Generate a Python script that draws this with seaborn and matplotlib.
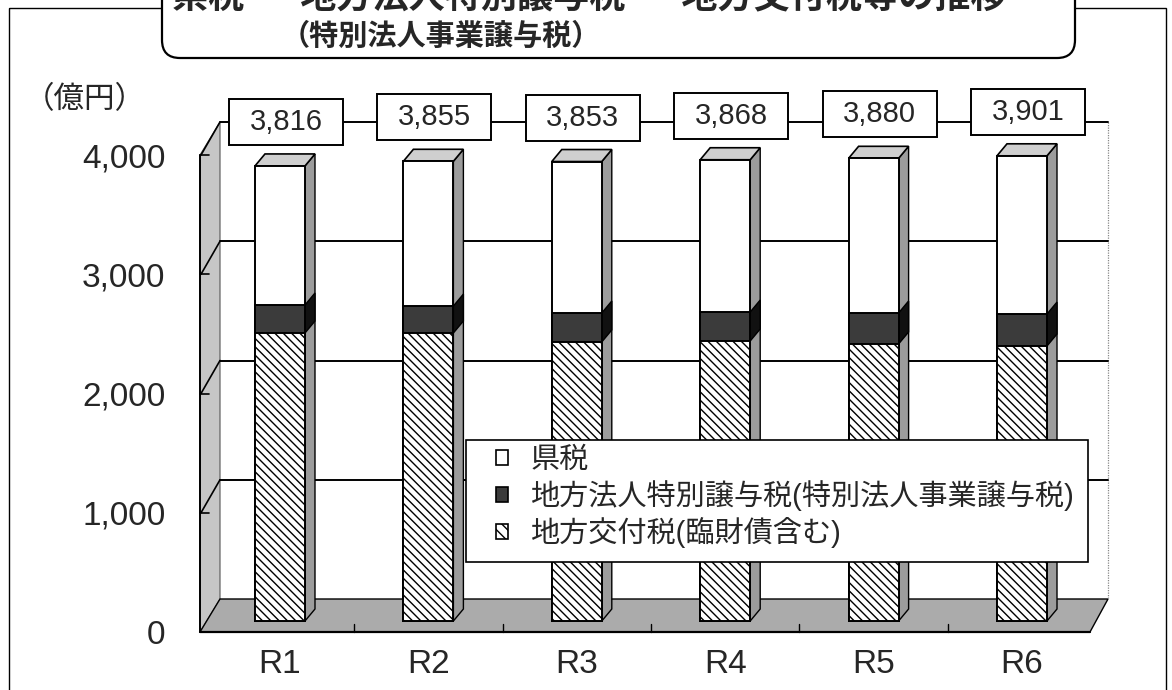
import numpy as np
import pandas as pd
import matplotlib
matplotlib.use("Agg")
import matplotlib.pyplot as plt
import seaborn as sns
from matplotlib.patches import Polygon, Rectangle, FancyBboxPatch, Patch
from matplotlib.transforms import IdentityTransform

# ---------------- data (億円) ----------------
years = ["R1", "R2", "R3", "R4", "R5", "R6"]
totals = [3816, 3855, 3853, 3868, 3880, 3901]
kenzei = [1166, 1214, 1270, 1277, 1297, 1327]          # 県税
tokubetsu = [235, 226, 243, 243, 260, 268]             # 地方法人特別譲与税(特別法人事業譲与税)
kouhu = [2415, 2415, 2340, 2348, 2323, 2306]           # 地方交付税(臨財債含む)
ytick_values = [0, 1000, 2000, 3000, 4000]
legend_labels = ["県税", "地方法人特別譲与税(特別法人事業譲与税)", "地方交付税(臨財債含む)"]
title_line1 = "県税 ・ 地方法人特別譲与税 ・ 地方交付税等の推移"
title_line2 = "（特別法人事業譲与税）"
unit_label = "（億円）"

sns.set_theme(style="white")
plt.rcParams["font.family"] = ["Liberation Sans", "Noto Sans CJK JP", "DejaVu Sans"]
plt.rcParams["hatch.linewidth"] = 1.0

W, H = 1172, 690
fig = plt.figure(figsize=(W / 100, H / 100), dpi=100)
fig.patch.set_facecolor("white")

# geometry (pixels, y measured from top)
FRONT0, BACK0, BAR0 = 632, 599, 621
S = 0.11925              # pixels per 億円
AX_L, AX_R, AX_T = 200, 1110, 118
XMIN, XMAX = -0.539, 5.593
DX, DY = 10, 12          # bar depth offset
BAR_W = 0.337


def xpix(i):
    return AX_L + (i - XMIN) * (AX_R - AX_L) / (XMAX - XMIN)


# ---------- background axes in pixel coordinates ----------
bg = fig.add_axes([0, 0, 1, 1], zorder=0)
bg.set_xlim(0, W)
bg.set_ylim(H, 0)
bg.axis("off")

# outer frame
bg.add_patch(Rectangle((9, 8), 1157, 700, fill=False, ec="black", lw=1.0, zorder=1))

top4000 = max(ytick_values)
# left wall
bg.add_patch(Polygon([(AX_L, FRONT0), (AX_L, FRONT0 - top4000 * S),
                      (AX_L + 20, BACK0 - top4000 * S), (AX_L + 20, BACK0)],
                     closed=True, fc="#c6c6c6", ec="#555555", lw=0.8, zorder=2))
# floor
bg.add_patch(Polygon([(AX_L, FRONT0), (1090, FRONT0), (1108, BACK0), (AX_L + 20, BACK0)],
                     closed=True, fc="#ababab", ec="black", lw=1.0, zorder=2))
bg.plot([AX_L, 1090], [FRONT0, FRONT0], color="black", lw=1.6, zorder=3)
# right edge of back wall
bg.plot([1108, 1108], [BACK0 - top4000 * S, BACK0], color="#888888", lw=0.9,
        ls=(0, (1, 1)), zorder=2)
# gridlines on back wall + left wall diagonals + front ticks
for v in ytick_values[1:]:
    yb = BACK0 - v * S
    yf = FRONT0 - v * S
    bg.plot([AX_L + 20, 1108], [yb, yb], color="black", lw=1.4, zorder=2)
    bg.plot([AX_L + 1, AX_L + 20], [yf, yb], color="black", lw=1.2, zorder=3)
    bg.plot([AX_L, AX_L + 9], [yf, yf], color="black", lw=1.2, zorder=3)
bg.plot([AX_L, AX_L], [FRONT0 - top4000 * S, FRONT0], color="black", lw=1.4, zorder=3)
# category separators on floor front edge
for i in range(len(years) - 1):
    xb = xpix(i + 0.5)
    bg.plot([xb, xb], [FRONT0, FRONT0 - 8], color="black", lw=1.0, zorder=3)

# title box
bg.add_patch(FancyBboxPatch((162, -60), 913, 118,
                            boxstyle="round,pad=0,rounding_size=18",
                            fc="white", ec="black", lw=1.6, zorder=4))
bg.text(172, -1, title_line1, fontsize=26, fontweight="bold", ha="left", va="center", zorder=5)
bg.text(281, 37, title_line2, fontsize=21, fontweight="bold", ha="left", va="center", zorder=5)
bg.text(85, 100, unit_label, fontsize=22, ha="center", va="center", zorder=5)

# ---------- main axes ----------
ax = fig.add_axes([AX_L / W, (H - FRONT0) / H, (AX_R - AX_L) / W, (FRONT0 - AX_T) / H], zorder=1)
ax.patch.set_alpha(0)

df = pd.DataFrame({"year": years, "kouhu": kouhu, "tokubetsu": tokubetsu, "kenzei": kenzei})
df["c2"] = df["kouhu"] + df["tokubetsu"]
df["c3"] = df["c2"] + df["kenzei"]

sns.barplot(data=df, x="year", y="c3", color="white", edgecolor="black", linewidth=1.4,
            width=BAR_W, saturation=1, errorbar=None, ax=ax, zorder=3)
sns.barplot(data=df, x="year", y="c2", color="#3b3b3b", edgecolor="black", linewidth=1.4,
            width=BAR_W, saturation=1, errorbar=None, ax=ax, zorder=3)
sns.barplot(data=df, x="year", y="kouhu", color="white", edgecolor="black", linewidth=1.4,
            hatch="\\\\\\\\", width=BAR_W, saturation=1, errorbar=None, ax=ax, zorder=3)

ax.set_xlim(XMIN, XMAX)
ax.set_ylim((BAR0 - FRONT0) / S, (BAR0 - AX_T) / S)
for sp in ax.spines.values():
    sp.set_visible(False)
ax.set_xlabel("")
ax.set_ylabel("")
off = (FRONT0 - BAR0) / S
ax.set_yticks([v - off for v in ytick_values])
ax.set_yticklabels([f"{v:,}" for v in ytick_values], fontsize=24)
ax.tick_params(axis="y", length=0, pad=25)
ax.tick_params(axis="x", length=0, pad=12, labelsize=24)
ax.grid(False)

# 3D side and top faces derived from the drawn bars
n = len(years)
tot_bars = ax.patches[:n]
mid_bars = ax.patches[n:2 * n]
low_bars = ax.patches[2 * n:3 * n]
idt = IdentityTransform()


def disp(x, y):
    return ax.transData.transform((x, y))


for pt, pm, pk in zip(tot_bars, mid_bars, low_bars):
    x0 = pt.get_x()
    x1 = x0 + pt.get_width()
    xl, yb = disp(x0, 0)
    xr, _ = disp(x1, 0)
    _, ytop = disp(x1, pt.get_height())
    _, ymid = disp(x1, pm.get_height())
    _, ylow = disp(x1, pk.get_height())
    ax.add_patch(Polygon([(xr, yb), (xr, ytop), (xr + DX, ytop + DY), (xr + DX, yb + DY)],
                         closed=True, fc="#9c9c9c", ec="black", lw=1.0,
                         transform=idt, clip_on=False, zorder=2.5))
    ax.add_patch(Polygon([(xr, ylow), (xr, ymid), (xr + DX, ymid + DY), (xr + DX, ylow + DY)],
                         closed=True, fc="#111111", ec="black", lw=1.0,
                         transform=idt, clip_on=False, zorder=2.6))
    ax.add_patch(Polygon([(xl, ytop), (xr, ytop), (xr + DX, ytop + DY), (xl + DX, ytop + DY)],
                         closed=True, fc="#cfcfcf", ec="black", lw=1.2,
                         transform=idt, clip_on=False, zorder=2.6))

# value label boxes
for i, t in enumerate(totals):
    cx, cy = disp(i, t)
    cx += 6
    cy += 44
    ax.add_patch(Rectangle((cx - 57, cy - 23), 114, 46, fc="white", ec="black", lw=1.4,
                           transform=idt, clip_on=False, zorder=6))
    ax.annotate(f"{t:,}", xy=(i, t), xytext=(6, 44), textcoords="offset pixels",
                ha="center", va="center", fontsize=21, zorder=7, annotation_clip=False)

# legend frame (reference box) + legend entries
ax.add_patch(Rectangle((466, H - 562), 622, 122, fc="white", ec="black", lw=1.2,
                       transform=idt, clip_on=False, zorder=9))
handles = [Patch(fc="white", ec="black", lw=1.2),
           Patch(fc="#3b3b3b", ec="black", lw=1.2),
           Patch(fc="white", ec="black", lw=1.2, hatch="\\\\\\")]
leg = ax.legend(handles, legend_labels, loc="center left",
                bbox_to_anchor=(496 / W, 1 - 497 / H), bbox_transform=fig.transFigure,
                fontsize=21, frameon=False,
                handlelength=0.42, handleheight=0.42, handletextpad=0.75,
                labelspacing=0.2, borderpad=0, borderaxespad=0)
leg.set_zorder(10)

fig.savefig("out.png", dpi=100, facecolor="white")
